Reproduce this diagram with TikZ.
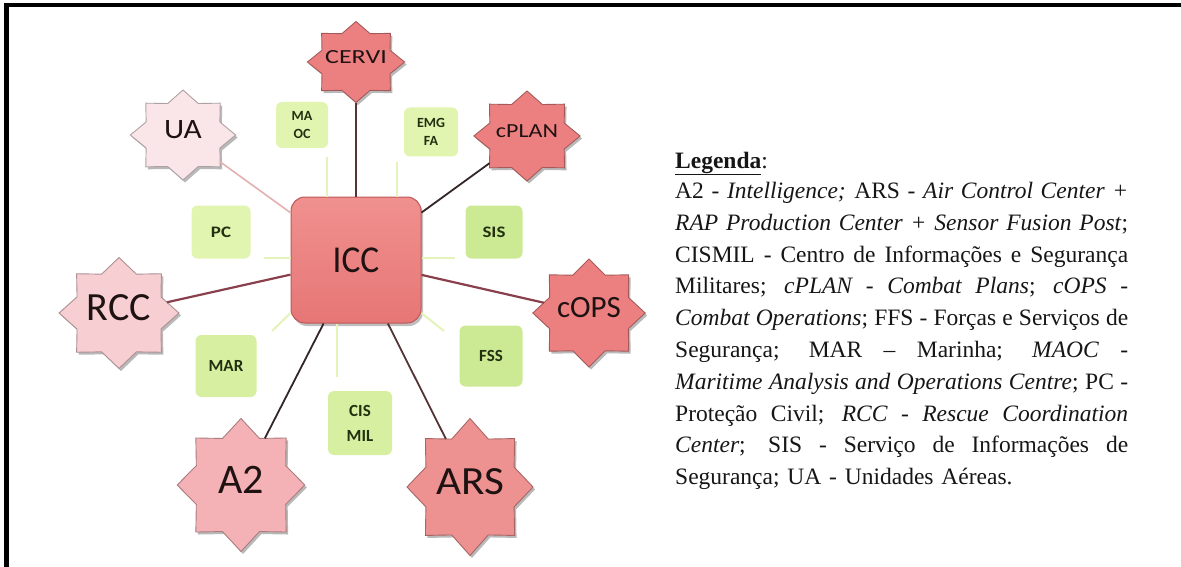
\documentclass[tikz,border=0pt]{standalone}
\usepackage{fontspec}
\setmainfont{Liberation Serif}
\newfontfamily\diagfont{Carlito}
\usepackage{graphicx}
\usetikzlibrary{shapes.geometric,shadows}

\definecolor{starRed}{RGB}{236,128,128}
\definecolor{starArs}{RGB}{238,146,145}
\definecolor{starPink}{RGB}{245,178,182}
\definecolor{starRose}{RGB}{247,206,210}
\definecolor{starPale}{RGB}{250,230,233}
\definecolor{iccTop}{RGB}{240,145,143}
\definecolor{iccBottom}{RGB}{230,118,118}
\definecolor{iccEdge}{RGB}{190,88,88}
\definecolor{limeLight}{RGB}{225,244,176}
\definecolor{limeMid}{RGB}{214,239,160}
\definecolor{limeDeep}{RGB}{204,233,148}
\definecolor{limeText}{RGB}{34,48,16}
\definecolor{labelInk}{RGB}{30,18,18}
\definecolor{linkDark}{RGB}{52,38,38}
\definecolor{linkBrown}{RGB}{84,52,52}
\definecolor{linkMaroon}{RGB}{138,64,76}
\definecolor{linkPink}{RGB}{228,176,176}
\definecolor{linkLime}{RGB}{228,243,186}
\definecolor{legendInk}{RGB}{22,22,22}

\tikzset{
  octa/.style={star, star points=8, star point ratio=1.32, inner sep=0pt, outer sep=0pt,
    fill=#1, draw=#1!70!black, line width=0.9pt,
    drop shadow={shadow xshift=2pt, shadow yshift=-2.5pt, fill=black!50, opacity=0.55}},
  starlabel/.style={inner sep=0pt, text=labelInk, font=\diagfont},
  hub/.style={rectangle, rounded corners=14pt, minimum width=130pt, minimum height=126pt,
    top color=iccTop, bottom color=iccBottom, draw=iccEdge, line width=1pt,
    drop shadow={shadow xshift=2pt, shadow yshift=-3pt, fill=black!50, opacity=0.5},
    font=\diagfont\fontsize{38}{40}\selectfont, text=labelInk},
  limebox/.style={rectangle, rounded corners=6pt, fill=#1, text=limeText, align=center,
    inner sep=0pt},
  darklink/.style={draw=linkDark, line width=1.8pt},
  brownlink/.style={draw=linkBrown, line width=1.8pt},
  maroonlink/.style={draw=linkMaroon, line width=2.2pt},
  pinklink/.style={draw=linkPink, line width=1.6pt},
  limelink/.style={draw=linkLime, line width=2pt},
  legendtext/.style={inner sep=0pt, text=legendInk, font=\fontsize{23.5}{31.8}\selectfont}
}

% an eight-pointed star, stretched horizontally by #4, with its label
\newcommand{\octstar}[7]{%
  \begin{scope}[shift={(#2,#3)},xscale=#4]
    \node[octa=#6,minimum size=#5pt,transform shape] (#1) at (0,0) {};
  \end{scope}
  \node[starlabel] (#1-text) at ([yshift=5pt]#1) {#7};}

% one justified line of the legend: word gaps stretch to the full width
\newcommand{\legline}[1]{\leavevmode\hbox to 453pt{\spaceskip=0.25em plus 2em minus 0.09em\relax #1}}

\begin{document}
\begin{tikzpicture}[x=1pt,y=-1pt]
  \path[fill=white,use as bounding box] (0,0) rectangle (1181,567);

  % page frame (top and left rules)
  \fill[black] (4,3) rectangle (1181,7.5);
  \fill[black] (4,3) rectangle (8.5,567);

  % central hub
  \node[hub] (icc) at (356,260) {\scalebox{0.93}[1]{ICC}};

  % surrounding centres
  \octstar{cervi}{356}{62}{1.2}{81}{starRed}{\fontsize{20}{22}\selectfont\scalebox{1.3}[1]{CERVI}}
  \octstar{ua}{183}{135}{1.17}{90}{starPale}{\fontsize{28}{30}\selectfont\scalebox{1.12}[1]{UA}}
  \octstar{cplan}{527}{136}{1.18}{90}{starRed}{\fontsize{20}{22}\selectfont\scalebox{1.2}[1]{cPLAN}}
  \octstar{rcc}{119}{313}{1.08}{111}{starRose}{\fontsize{40}{42}\selectfont RCC}
  \octstar{cops}{589}{313}{1.04}{108}{starRed}{\fontsize{31}{33}\selectfont cOPS}
  \octstar{atwo}{241}{485}{0.96}{133}{starPink}{\fontsize{42}{44}\selectfont A2}
  \octstar{ars}{470}{487}{0.92}{137}{starArs}{\fontsize{40}{42}\selectfont\scalebox{1.08}[1]{ARS}}

  % supporting agencies
  \node[limebox=limeLight, minimum width=52pt, minimum height=46pt,
        font=\diagfont\bfseries\fontsize{14}{18}\selectfont] (maoc) at (302,125) {MA\\OC};
  \node[limebox=limeLight, minimum width=54pt, minimum height=49pt,
        font=\diagfont\bfseries\fontsize{14}{18}\selectfont] (emgfa) at (431,132) {EMG\\FA};
  \node[limebox=limeLight, minimum width=59pt, minimum height=53pt,
        font=\diagfont\bfseries\fontsize{16}{18}\selectfont] (pc) at (221,232) {\scalebox{1.18}[1]{PC}};
  \node[limebox=limeDeep, minimum width=57pt, minimum height=53pt,
        font=\diagfont\bfseries\fontsize{16}{18}\selectfont] (sis) at (494,232) {\scalebox{1.18}[1]{SIS}};
  \node[limebox=limeMid, minimum width=61pt, minimum height=62pt,
        font=\diagfont\bfseries\fontsize{17}{20}\selectfont] (mar) at (226,366) {MAR};
  \node[limebox=limeDeep, minimum width=63pt, minimum height=61pt,
        font=\diagfont\bfseries\fontsize{17}{20}\selectfont] (fss) at (491,356) {FSS};
  \node[limebox=limeMid, minimum width=64pt, minimum height=64pt,
        font=\diagfont\bfseries\fontsize{17}{25}\selectfont] (cismil) at (360,423) {CIS\\MIL};

  % faint links towards the agencies
  \coordinate (maoc-tip) at (327,157);
  \coordinate (emgfa-tip) at (397,162);
  \coordinate (pc-tip) at (264,258);
  \coordinate (sis-tip) at (455,258);
  \coordinate (mar-tip) at (272,331);
  \coordinate (fss-tip) at (444,331);
  \coordinate (cismil-tip) at (337,377);
  \draw[limelink] (icc.north -| maoc-tip) -- (maoc-tip);
  \draw[limelink] (icc.north -| emgfa-tip) -- (emgfa-tip);
  \draw[limelink] (icc.west |- pc-tip) -- (pc-tip);
  \draw[limelink] (icc.east |- sis-tip) -- (sis-tip);
  \draw[limelink] (icc.219) -- (mar-tip);
  \draw[limelink] (icc.321) -- (fss-tip);
  \draw[limelink] (icc.south -| cismil-tip) -- (cismil-tip);

  % links to the centres
  \draw[brownlink] (icc) -- (cervi);
  \draw[pinklink] (icc) -- (ua);
  \draw[darklink] (icc) -- (cplan);
  \draw[maroonlink] (icc) -- (rcc);
  \draw[maroonlink] (icc) -- (cops);
  \draw[darklink] (icc) -- (atwo);
  \draw[brownlink] (icc) -- (ars);

  % legend
  \node[legendtext, anchor=base west] (legtitle) at (675,168) {\textbf{\underline{Legenda}}:};
  \node[legendtext, anchor=base west, text width=453pt, align=left] (legend) at (675,198.5) {%
    \legline{A2 - \textit{Intelligence;} ARS - \textit{Air Control Center +}}\\
    \legline{\textit{RAP Production Center + Sensor Fusion Post};}\\
    \legline{CISMIL - Centro de Informações e Segurança}\\
    \legline{Militares; \textit{cPLAN - Combat Plans}; \textit{cOPS} -}\\
    \legline{\textit{Combat Operations}; FFS - Forças e Serviços de}\\
    \legline{Segurança; MAR -- Marinha; \textit{MAOC} -}\\
    \legline{\textit{Maritime Analysis and Operations Centre}; PC -}\\
    \legline{Proteção Civil; \textit{RCC - Rescue Coordination}}\\
    \legline{\textit{Center}; SIS - Serviço de Informações de}\\
    Segurança; UA - Unidades Aéreas.};
\end{tikzpicture}
\end{document}
